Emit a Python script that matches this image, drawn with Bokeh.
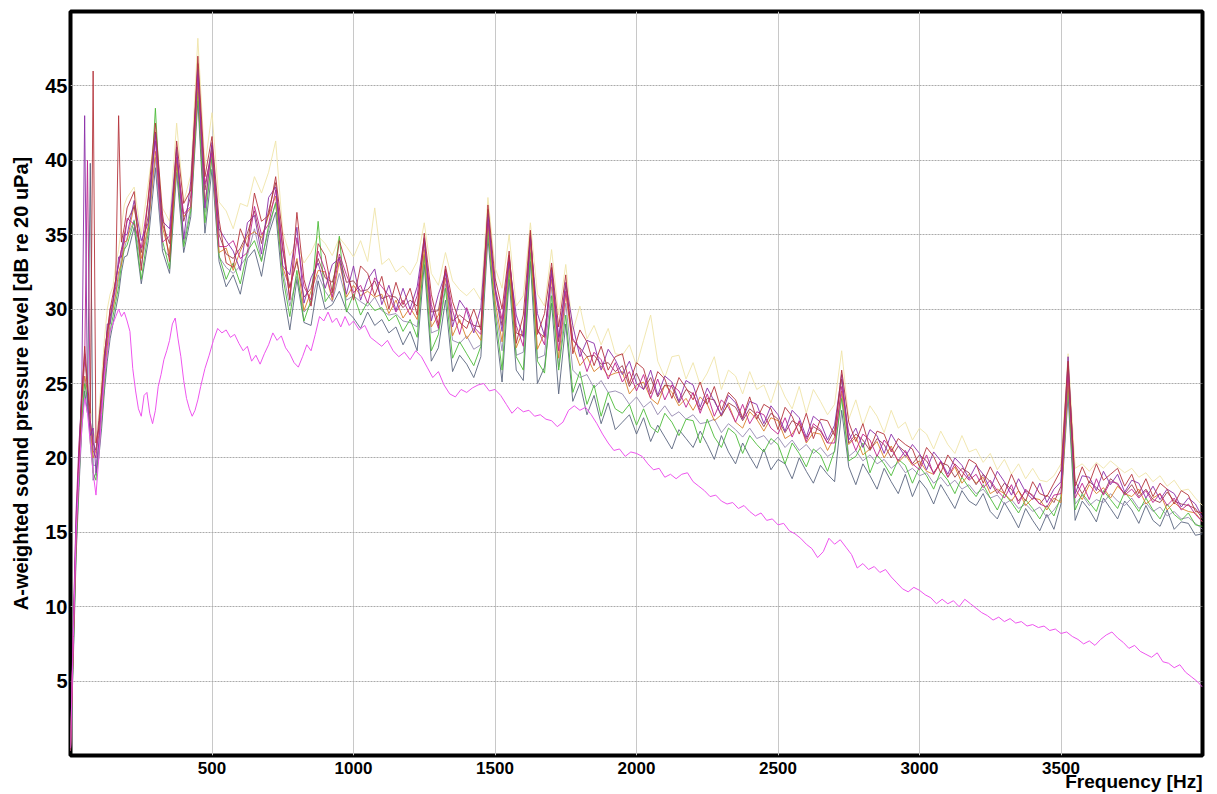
from bokeh.plotting import figure
from bokeh.models import Range1d, FixedTicker, Title
from bokeh.embed import file_html
from bokeh.resources import INLINE

# Frequency grid shared by the measured spectra (Hz)
freq = list(range(0, 200, 10)) + list(range(200, 4001, 25))

x_ticks = [500, 1000, 1500, 2000, 2500, 3000, 3500]
y_ticks = [5, 10, 15, 20, 25, 30, 35, 40, 45]

# A-weighted SPL (dB re 20 uPa)
yellow = [0.5, 8, 15, 20, 24.5, 26, 25.5, 23.5, 22, 21, 23, 25.5, 28, 30, 31, 31.5, 33, 34, 35.5, 37,
    37.5, 38.2, 35.0, 38.5, 42.0, 36.8, 35.9, 42.5, 37.2, 39.0,
    48.2, 39.6, 43.2, 37.2, 36.6, 35.4, 37.1, 36.9, 38.9, 37.8,
    39.2, 41.3, 35.2, 33.6, 34.5, 33.1, 33.8, 34.9, 34.4, 33.6,
    34.8, 34.2, 33.5, 34.6, 33.2, 36.8, 33.0, 33.4, 32.5, 32.9,
    32.3, 33.2, 35.8, 32.4, 31.6, 33.8, 31.9, 31.3, 30.9, 31.4,
    30.6, 37.5, 32.8, 31.4, 35.0, 30.2, 30.9, 35.8, 31.0, 30.2,
    34.0, 29.6, 33.0, 28.5, 30.2, 28.0, 28.9, 27.6, 28.7, 27.0,
    26.9, 27.6, 26.2, 27.9, 29.6, 26.5, 25.4, 26.8, 26.9, 25.3,
    26.4, 24.9, 25.7, 26.8, 24.6, 25.9, 25.5, 24.3, 25.8, 24.6,
    24.9, 23.7, 25.2, 24.1, 23.3, 24.8, 23.0, 24.6, 23.8, 22.9,
    23.6, 27.2, 22.6, 23.9, 22.2, 23.5, 22.8, 21.7, 23.2, 22.0,
    22.4, 21.2, 22.0, 21.6, 20.6, 21.8, 20.9, 20.3, 21.5, 20.4,
    20.6, 19.7, 20.3, 19.2, 19.9, 18.9, 19.6, 18.6, 19.3, 18.5,
    18.4, 18.8, 19.6, 27.0, 19.3, 19.6, 19.1, 19.7, 19.3, 19.8,
    19.4, 19.0, 19.3, 18.7, 19.0, 18.4, 18.8, 18.1, 18.5, 17.8,
    17.9, 17.3, 16.8]

slate = [0.3, 6.5, 13.5, 18, 22, 24.5, 23, 39.8, 18.5, 19, 20, 22, 24.5, 26.5, 28, 29, 30, 31, 32.5, 33.5,
    33.6, 35.5, 31.7, 34.6, 39.5, 33.9, 32.4, 39.2, 33.8, 36.2,
    44.0, 35.1, 39.4, 33.2, 31.5, 32.3, 31.0, 33.4, 34.0, 32.2,
    35.0, 36.5, 31.4, 28.6, 32.0, 29.1, 28.9, 31.9, 30.0, 30.3,
    31.2, 29.9, 29.4, 28.7, 29.8, 28.9, 29.3, 28.4, 28.8, 27.6,
    28.5, 27.2, 33.0, 26.5, 27.4, 30.6, 25.8, 26.9, 26.3, 25.4,
    26.8, 34.8, 29.2, 25.1, 32.0, 25.9, 25.2, 33.2, 25.0, 26.1,
    30.4, 24.3, 29.0, 23.8, 25.0, 22.9, 24.2, 22.3, 23.7, 21.9,
    22.4, 22.9, 21.6, 22.7, 21.1, 22.2, 21.4, 20.6, 21.9, 21.3,
    20.7, 21.8, 20.9, 19.9, 21.5, 20.4, 19.6, 21.0, 20.1, 19.3,
    20.6, 19.2, 19.9, 19.6, 18.6, 20.0, 19.1, 18.3, 19.5, 18.9,
    18.4, 23.2, 19.4, 18.2, 19.6, 18.8, 17.9, 19.3, 18.4, 17.6,
    18.9, 17.4, 18.5, 17.9, 16.9, 18.2, 17.4, 16.6, 17.8, 17.1,
    16.8, 17.6, 16.4, 15.9, 17.0, 16.2, 15.3, 16.6, 15.8, 15.1,
    16.2, 15.2, 16.9, 24.2, 15.8, 17.1, 16.5, 15.7, 17.3, 16.6,
    15.9, 17.1, 16.5, 15.6, 16.8, 15.8, 15.4, 16.5, 15.2, 15.7,
    15.6, 14.8, 14.9]

lavender = [0.3, 7, 14.5, 19, 23, 25.5, 23.5, 21.5, 19.5, 19.5, 21, 23, 25, 27.5, 29, 30, 31, 32, 33.5, 34,
    34.8, 36.0, 32.9, 35.5, 40.2, 34.1, 33.5, 39.6, 34.5, 36.9,
    45.0, 36.5, 40.1, 33.5, 32.8, 32.4, 32.9, 33.6, 35.4, 33.3,
    35.3, 37.2, 32.6, 30.2, 32.2, 29.8, 30.3, 32.3, 31.2, 30.5,
    32.4, 30.6, 30.9, 30.5, 30.2, 30.8, 29.9, 29.6, 29.7, 29.2,
    29.1, 28.8, 33.7, 28.4, 28.6, 31.7, 27.9, 27.7, 28.2, 27.3,
    27.6, 35.7, 30.1, 27.2, 32.8, 26.9, 27.1, 34.1, 26.7, 26.9,
    31.5, 26.1, 30.4, 25.9, 25.4, 25.6, 24.7, 25.2, 24.4, 24.5,
    24.3, 23.6, 24.1, 23.4, 23.8, 22.9, 23.5, 22.8, 23.1, 22.6,
    22.9, 22.3, 22.4, 22.6, 21.7, 22.3, 21.9, 21.4, 22.0, 21.3,
    21.5, 20.9, 21.4, 20.7, 21.2, 20.5, 20.9, 20.3, 20.7, 20.1,
    20.4, 24.3, 20.1, 20.5, 19.8, 20.2, 19.6, 19.9, 19.3, 19.7,
    19.0, 19.3, 18.8, 19.0, 18.3, 18.7, 18.1, 18.5, 17.9, 18.2,
    17.6, 17.9, 17.3, 17.5, 16.9, 17.2, 16.6, 16.9, 16.4, 16.7,
    16.0, 16.5, 17.2, 24.8, 16.9, 17.5, 16.8, 17.2, 17.0, 17.6,
    17.1, 16.8, 17.3, 16.6, 17.0, 16.4, 16.7, 16.1, 16.4, 15.9,
    16.0, 15.6, 15.2]

green = [0.4, 7, 14, 18.5, 22.5, 25, 24, 21, 19, 18.5, 20.5, 22.5, 25, 27, 28.5, 29.5, 30.5, 31.5, 33, 34,
    34.3, 35.9, 32.0, 35.2, 43.5, 34.6, 32.7, 40.0, 34.2, 36.6,
    44.6, 35.8, 40.3, 33.6, 32.0, 33.1, 31.7, 33.9, 34.6, 33.2,
    35.6, 37.1, 32.2, 29.5, 32.6, 29.2, 30.6, 35.9, 30.5, 31.2,
    34.9, 29.8, 31.0, 29.6, 30.5, 29.9, 30.1, 29.2, 29.6, 28.5,
    29.3, 28.1, 33.6, 27.2, 28.3, 31.4, 26.7, 27.8, 27.0, 26.2,
    27.5, 35.4, 29.8, 25.9, 32.6, 26.8, 25.9, 33.8, 26.5, 25.7,
    30.9, 25.9, 29.6, 24.4, 25.8, 23.6, 24.9, 22.8, 24.4, 23.3,
    23.0, 23.6, 22.2, 23.3, 22.1, 21.7, 23.0, 22.4, 21.5, 22.6,
    22.5, 21.0, 22.6, 21.4, 20.7, 22.0, 21.6, 20.3, 21.5, 20.9,
    20.4, 21.3, 20.9, 19.6, 21.0, 20.3, 19.4, 20.6, 20.2, 19.1,
    20.5, 24.0, 19.8, 20.1, 21.0, 19.0, 20.2, 19.6, 18.8, 19.9,
    19.5, 18.3, 19.4, 18.8, 17.9, 19.1, 18.5, 17.6, 18.7, 18.0,
    17.4, 18.2, 17.3, 16.5, 17.6, 17.0, 16.3, 17.2, 16.6, 15.9,
    16.8, 16.1, 17.4, 25.0, 16.5, 17.6, 17.0, 16.4, 17.8, 17.2,
    16.6, 17.7, 17.1, 16.4, 17.3, 16.5, 15.9, 16.9, 16.2, 15.8,
    16.3, 15.5, 15.4]

orange = [0.6, 8, 15.5, 20.5, 24, 25.5, 24.5, 22, 20, 20.5, 21.5, 23, 25.5, 27.5, 29.5, 30, 31, 32.5, 33, 34.5,
    34.6, 37.0, 33.4, 35.6, 40.6, 35.5, 33.7, 39.8, 36.2, 36.8,
    45.2, 37.2, 40.7, 33.8, 34.1, 32.6, 33.9, 34.9, 35.2, 34.8,
    36.3, 37.6, 32.8, 31.4, 33.4, 29.9, 31.2, 32.6, 32.5, 30.6,
    33.2, 30.8, 31.6, 30.9, 31.2, 30.8, 31.0, 29.7, 30.6, 29.4,
    30.1, 29.3, 34.0, 28.8, 29.6, 32.1, 28.2, 29.3, 28.0, 28.7,
    27.9, 35.8, 30.6, 27.8, 33.0, 27.4, 28.6, 34.4, 27.3, 28.4,
    32.0, 26.7, 31.0, 27.5, 26.2, 26.8, 25.8, 26.2, 25.5, 25.7,
    25.8, 24.3, 24.9, 25.1, 24.0, 23.6, 24.9, 24.4, 23.5, 24.0,
    23.2, 24.1, 23.6, 22.5, 22.9, 23.6, 22.4, 22.0, 23.1, 22.6,
    21.8, 22.7, 22.5, 21.3, 21.6, 22.4, 21.0, 21.7, 21.6, 20.5,
    21.4, 24.5, 20.9, 21.4, 20.2, 20.6, 21.1, 20.0, 20.8, 19.7,
    20.2, 19.5, 19.8, 19.1, 18.9, 19.7, 18.7, 19.4, 18.3, 18.9,
    18.3, 18.7, 17.6, 17.9, 17.6, 17.1, 17.8, 16.8, 17.3, 17.2,
    16.5, 17.3, 17.0, 25.2, 17.9, 17.2, 18.2, 17.6, 18.0, 17.3,
    18.1, 17.6, 17.4, 17.9, 16.9, 17.3, 17.6, 16.5, 17.0, 16.6,
    16.4, 16.3, 15.7]

brown = [0.4, 8, 15, 20, 24.5, 27, 24.5, 22.5, 21, 20.5, 22.5, 24.5, 27, 28.5, 29.5, 30.5, 32, 33, 34, 35,
    35.9, 36.9, 33.8, 36.3, 41.9, 35.7, 34.4, 40.7, 35.9, 37.6,
    46.5, 38.0, 41.0, 35.0, 33.7, 33.4, 34.1, 35.1, 36.6, 34.4,
    36.6, 38.5, 33.9, 31.5, 33.2, 30.8, 31.4, 33.4, 32.1, 31.8,
    33.5, 31.8, 31.9, 31.2, 31.3, 31.9, 30.7, 30.9, 30.8, 30.1,
    30.6, 30.2, 34.7, 29.8, 29.9, 32.7, 29.2, 29.6, 29.2, 28.9,
    28.8, 36.7, 31.4, 28.9, 33.6, 28.4, 28.2, 35.1, 28.5, 28.1,
    32.8, 27.8, 31.6, 27.9, 27.4, 26.8, 26.9, 26.3, 26.4, 25.8,
    26.2, 24.8, 25.7, 24.6, 25.4, 24.1, 24.9, 24.8, 23.7, 24.6,
    24.3, 23.2, 24.0, 23.9, 22.8, 23.7, 23.4, 22.5, 23.3, 22.9,
    22.1, 23.0, 22.6, 21.7, 22.5, 22.2, 21.3, 22.1, 21.8, 21.0,
    21.9, 25.3, 21.0, 21.6, 21.2, 20.5, 21.3, 20.9, 20.0, 20.8,
    20.4, 19.6, 20.2, 19.8, 19.0, 19.7, 19.5, 18.7, 19.3, 19.0,
    18.2, 18.9, 18.4, 17.6, 18.3, 17.9, 17.1, 17.8, 17.5, 16.9,
    17.5, 17.0, 18.1, 26.2, 18.4, 17.6, 18.4, 18.0, 17.6, 18.6,
    18.2, 17.6, 18.2, 17.4, 17.9, 17.2, 17.0, 17.7, 17.1, 16.9,
    16.8, 16.6, 15.9]

magenta = [0.4, 9, 16.5, 21, 24, 26.5, 40, 22.5, 20.5, 20, 22, 24, 26.5, 28, 30, 30.5, 32, 33, 34, 34.5,
    36.1, 35.7, 34.1, 37.4, 41.3, 34.5, 34.9, 40.2, 36.4, 36.9,
    45.8, 38.4, 40.5, 34.2, 34.2, 34.6, 33.4, 33.8, 36.9, 35.0,
    35.7, 38.0, 34.2, 30.7, 34.8, 31.5, 30.6, 33.9, 32.6, 30.8,
    33.7, 32.3, 31.1, 31.6, 30.4, 32.1, 31.5, 30.9, 29.8, 30.6,
    29.6, 30.9, 34.6, 30.3, 28.7, 32.6, 29.9, 28.3, 30.1, 28.8,
    28.3, 36.0, 31.5, 29.3, 33.6, 28.9, 27.5, 34.9, 28.7, 27.6,
    32.4, 27.2, 31.2, 28.0, 27.3, 25.8, 27.1, 26.6, 25.3, 26.4,
    25.1, 25.8, 24.5, 25.6, 24.0, 25.3, 23.9, 24.9, 24.5, 23.4,
    24.4, 23.0, 24.3, 22.8, 23.9, 23.4, 22.4, 23.6, 22.3, 23.1,
    22.9, 22.0, 21.6, 22.7, 21.4, 22.5, 21.1, 22.3, 21.9, 21.0,
    21.0, 24.8, 21.7, 20.5, 21.6, 21.2, 20.1, 21.2, 20.6, 19.8,
    20.5, 19.6, 19.2, 20.2, 18.9, 19.8, 18.7, 19.6, 19.1, 18.5,
    18.9, 18.0, 18.5, 17.8, 17.3, 18.2, 16.9, 17.9, 17.4, 16.9,
    16.7, 17.5, 17.6, 25.8, 17.3, 18.3, 17.2, 18.6, 17.5, 18.4,
    18.3, 17.5, 17.9, 17.3, 17.8, 17.0, 17.6, 16.8, 17.3, 16.5,
    16.9, 16.2, 15.7]

purple = [0.5, 8.5, 16, 20, 25, 43, 24, 21.5, 22, 19, 21, 23.5, 26, 29, 29, 30.5, 31.5, 33.5, 33.5, 35,
    35.0, 37.3, 34.6, 35.8, 41.8, 35.9, 35.4, 40.9, 34.7, 38.6,
    46.1, 36.8, 41.2, 35.4, 34.6, 33.9, 32.6, 35.8, 36.3, 33.7,
    37.5, 38.2, 32.9, 32.3, 35.5, 30.4, 32.1, 33.1, 31.4, 33.0,
    33.4, 31.0, 32.9, 30.6, 32.0, 32.7, 30.3, 31.6, 29.9, 31.4,
    30.0, 31.5, 34.8, 29.2, 31.0, 32.4, 28.8, 30.6, 29.9, 28.4,
    30.1, 36.4, 31.3, 28.5, 33.2, 29.6, 28.1, 34.8, 29.7, 28.2,
    32.6, 28.1, 31.8, 28.9, 26.8, 27.9, 27.7, 25.9, 27.3, 26.6,
    25.6, 26.5, 25.0, 24.6, 25.9, 24.2, 25.5, 25.1, 23.8, 25.2,
    24.9, 23.4, 24.7, 23.8, 22.9, 24.2, 23.7, 22.6, 23.8, 23.6,
    22.3, 23.5, 22.9, 21.8, 23.2, 22.7, 21.4, 22.8, 22.4, 21.2,
    22.2, 25.6, 21.2, 22.0, 20.7, 21.9, 21.5, 20.3, 21.6, 20.8,
    20.1, 20.9, 20.3, 19.2, 20.4, 19.8, 18.9, 20.0, 19.5, 18.6,
    19.5, 18.9, 17.9, 19.1, 18.4, 17.5, 18.6, 17.7, 17.2, 18.3,
    17.0, 17.9, 18.4, 26.8, 17.6, 18.8, 18.7, 17.8, 19.1, 18.2,
    18.9, 17.7, 18.5, 18.3, 17.3, 18.1, 17.2, 17.9, 17.6, 16.7,
    17.3, 16.9, 16.0]

red = [0.3, 7.5, 14.5, 19.5, 24, 27.5, 25, 23, 46, 21, 22, 24.5, 27, 28.5, 30, 31, 32, 43, 34.5, 35.5,
    36.8, 37.9, 32.6, 37.6, 42.5, 36.4, 33.2, 41.3, 37.1, 38.0,
    47.0, 38.9, 41.6, 36.0, 33.1, 32.8, 35.4, 34.2, 37.8, 35.9,
    36.3, 38.9, 34.9, 30.6, 36.5, 32.0, 30.2, 34.4, 33.6, 31.1,
    34.6, 33.0, 30.6, 32.9, 32.4, 30.9, 32.2, 30.0, 31.8, 30.3,
    31.4, 29.6, 35.1, 31.0, 28.9, 32.9, 30.5, 29.1, 28.7, 30.0,
    28.6, 37.0, 32.1, 30.0, 33.9, 27.7, 29.6, 35.3, 28.3, 29.7,
    33.1, 28.8, 32.3, 27.0, 28.6, 27.8, 26.2, 27.5, 25.9, 26.8,
    27.0, 25.0, 26.4, 26.0, 24.3, 25.8, 25.3, 24.0, 25.4, 24.7,
    23.9, 25.1, 23.6, 24.8, 23.2, 24.4, 23.9, 22.7, 24.1, 22.6,
    23.6, 23.3, 21.9, 23.4, 22.8, 21.6, 23.0, 21.3, 22.6, 22.5,
    21.5, 25.9, 22.4, 21.1, 22.3, 20.6, 21.8, 21.6, 20.4, 21.3,
    20.9, 20.6, 19.4, 20.7, 20.1, 19.0, 20.2, 19.5, 18.7, 19.9,
    19.6, 18.3, 19.4, 18.5, 17.6, 18.9, 17.8, 17.1, 18.4, 17.6,
    17.4, 18.3, 19.2, 26.5, 18.1, 19.4, 18.3, 19.6, 18.5, 18.9,
    19.3, 18.1, 18.9, 17.6, 18.6, 17.4, 18.3, 17.9, 16.9, 17.8,
    17.5, 16.4, 16.3]

# Lower (background) spectrum: (Hz, dB)
pink = [(0, 0.5), (10, 8), (20, 15), (30, 19), (40, 22), (50, 24), (60, 23), (70, 21), (80, 19), (90, 17.5),
    (100, 20), (110, 23), (120, 25.5), (130, 27), (140, 28.5), (150, 29), (160, 29.5), (170, 30), (180, 29.5),
    (190, 29.8), (200, 29.2), (210, 28.5), (220, 26), (230, 24.5), (240, 23.3), (250, 22.8), (260, 24.2),
    (270, 24.4), (280, 23), (290, 22.3), (300, 23.2), (310, 24.8), (320, 25.6), (330, 26.6), (340, 27.2),
    (350, 27.9), (360, 29.0), (370, 29.4), (380, 28.0), (390, 26.8), (400, 25.2), (410, 24.0), (420, 23.3),
    (430, 22.8), (440, 23.2), (450, 23.9), (460, 24.8), (475, 26.0), (490, 26.9), (505, 27.9), (520, 28.7),
    (535, 28.4), (550, 28.6), (565, 28.1), (580, 28.3), (595, 27.7), (610, 27.2), (625, 27.5), (640, 26.5),
    (655, 26.9), (670, 26.3), (685, 27.0), (700, 27.6), (715, 28.4), (730, 27.9), (745, 28.2), (760, 27.4),
    (775, 27.0), (790, 26.4), (805, 26.1), (820, 26.8), (835, 27.6), (850, 27.2), (865, 28.3), (880, 29.5),
    (895, 29.2), (910, 29.8), (925, 29.1), (940, 29.4), (955, 28.8), (970, 29.5), (985, 28.9), (1000, 29.2),
    (1020, 28.6), (1040, 28.9), (1060, 28.1), (1080, 27.8), (1100, 27.5), (1120, 27.9), (1140, 27.2),
    (1160, 26.8), (1180, 27.1), (1200, 26.6), (1220, 27.2), (1240, 26.8), (1260, 26.1), (1280, 25.4),
    (1300, 25.8), (1320, 24.9), (1340, 24.3), (1360, 24.1), (1380, 24.6), (1400, 24.4), (1420, 24.7),
    (1440, 24.9), (1460, 25.0), (1480, 24.5), (1500, 24.6), (1520, 24.2), (1540, 23.6), (1560, 23.0),
    (1580, 23.4), (1600, 23.1), (1620, 23.2), (1640, 22.8), (1660, 22.9), (1680, 22.6), (1700, 22.5),
    (1720, 22.1), (1740, 22.4), (1760, 23.2), (1780, 23.5), (1800, 23.2), (1820, 23.4), (1840, 22.9),
    (1860, 22.3), (1880, 21.6), (1900, 21.0), (1920, 20.5), (1940, 20.6), (1960, 20.1), (1980, 20.4),
    (2000, 20.3), (2020, 20.1), (2040, 19.6), (2060, 19.2), (2080, 19.3), (2100, 18.7), (2120, 18.9),
    (2140, 18.6), (2160, 18.9), (2180, 19.0), (2200, 18.4), (2220, 18.1), (2240, 17.8), (2260, 17.4),
    (2280, 17.5), (2300, 17.1), (2320, 16.9), (2340, 17.0), (2360, 16.6), (2380, 16.8), (2400, 16.4),
    (2420, 16.1), (2440, 16.3), (2460, 15.8), (2480, 15.9), (2500, 15.5), (2520, 15.6), (2540, 15.1),
    (2560, 14.9), (2580, 14.6), (2600, 14.2), (2620, 13.9), (2640, 13.3), (2660, 13.7), (2680, 14.6),
    (2700, 14.2), (2720, 14.5), (2740, 14.0), (2760, 13.5), (2780, 12.6), (2800, 12.9), (2820, 12.5),
    (2840, 12.7), (2860, 12.3), (2880, 12.5), (2900, 12.0), (2920, 11.6), (2940, 11.2), (2960, 11.0),
    (2980, 11.3), (3000, 11.1), (3020, 10.8), (3040, 10.6), (3060, 10.2), (3080, 10.5), (3100, 10.2),
    (3120, 10.4), (3140, 10.0), (3160, 10.5), (3180, 10.2), (3200, 9.9), (3220, 9.6), (3240, 9.4),
    (3260, 9.1), (3280, 9.3), (3300, 9.0), (3320, 9.2), (3340, 8.9), (3360, 9.0), (3380, 8.7), (3400, 8.8),
    (3420, 8.6), (3440, 8.7), (3460, 8.4), (3480, 8.5), (3500, 8.2), (3520, 8.3), (3540, 8.0), (3560, 7.8),
    (3580, 7.5), (3600, 7.7), (3620, 7.4), (3640, 7.8), (3660, 8.1), (3680, 8.3), (3700, 7.9), (3720, 7.6),
    (3740, 7.2), (3760, 7.4), (3780, 7.0), (3800, 6.8), (3820, 6.6), (3840, 6.9), (3860, 6.3), (3880, 6.2),
    (3900, 5.9), (3920, 6.1), (3940, 5.6), (3960, 5.3), (3980, 5.0), (4000, 4.6)]
pink_freq = [f for f, _ in pink]
pink_db = [d for _, d in pink]

series = [
    (yellow, "#efe4a8", 0.9),
    (slate, "#5b6680", 0.9),
    (lavender, "#9689b0", 0.9),
    (green, "#4cbb3a", 0.9),
    (orange, "#d9822b", 0.9),
    (brown, "#9b3d4e", 0.9),
    (magenta, "#c0238f", 0.9),
    (purple, "#8b2fa8", 0.9),
    (red, "#b5343c", 0.9),
]
for vals, _, _ in series:
    assert len(vals) == len(freq), (len(vals), len(freq))

p = figure(width=1217, height=794, x_range=Range1d(0, 4000), y_range=Range1d(0, 50),
           output_backend="svg", toolbar_location=None,
           min_border_left=70, min_border_right=15, min_border_top=11, min_border_bottom=39)

p.outline_line_color = "black"
p.outline_line_width = 4
p.background_fill_color = "white"
p.border_fill_color = "white"

p.xgrid.grid_line_color = "#c8c8c8"
p.xgrid.grid_line_width = 1
p.ygrid.grid_line_color = "#aaaaaa"
p.ygrid.grid_line_width = 1
p.ygrid.grid_line_dash = "2 1"

p.xaxis.ticker = FixedTicker(ticks=x_ticks)
p.yaxis.ticker = FixedTicker(ticks=y_ticks)
p.xgrid.ticker = FixedTicker(ticks=x_ticks)
p.ygrid.ticker = FixedTicker(ticks=y_ticks)

for ax in (p.xaxis, p.yaxis):
    ax.axis_line_color = None
    ax.major_tick_line_color = None
    ax.minor_tick_line_color = None
    ax.major_tick_out = 0
    ax.major_tick_in = 0
    ax.minor_tick_out = 0
    ax.major_label_text_font = "Liberation Sans"
    ax.major_label_text_font_style = "bold"
    ax.major_label_text_color = "black"
    ax.axis_label_text_font = "Liberation Sans"
    ax.axis_label_text_font_style = "bold"
    ax.axis_label_text_color = "black"

p.xaxis.major_label_text_font_size = "17px"
p.xaxis.major_label_standoff = 6
p.yaxis.major_label_text_font_size = "20px"
p.yaxis.major_label_standoff = 3
p.yaxis.axis_label = "A-weighted sound pressure level [dB re 20 uPa]"
p.yaxis.axis_label_text_font_size = "20px"
p.yaxis.axis_label_standoff = 10

p.add_layout(Title(text="Frequency [Hz]", align="right", standoff=-15,
                   text_font="Liberation Sans", text_font_style="bold",
                   text_font_size="19px", text_color="black"), "below")

for vals, col, a in series:
    p.line(freq, vals, line_color=col, line_width=1, line_alpha=a)

p.line(pink_freq, pink_db, line_color="#ee55ee", line_width=1)

open("out.html", "w").write(file_html(p, INLINE))
